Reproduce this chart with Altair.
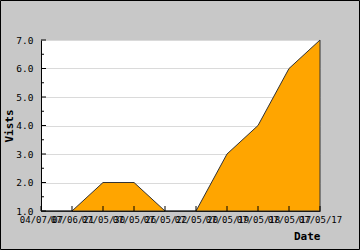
import altair as alt
import pandas as pd

# ---- data ----
dates = ["04/07/07", "07/06/21", "07/05/30", "07/05/26", "07/05/22",
         "07/05/20", "07/05/19", "07/05/18", "07/05/17", "07/05/17"]
visits = [1, 1, 2, 2, 1, 1, 3, 4, 6, 7]
y_major = [1, 2, 3, 4, 5, 6, 7]
y_minor = [1.5, 2.5, 3.5, 4.5, 5.5, 6.5]

W, H = 279, 171
FONT = "DejaVu Sans Mono"

df = pd.DataFrame({"idx": list(range(len(dates))), "Date": dates, "Vists": visits})
major_df = pd.DataFrame({"idx": [0] * len(y_major), "Vists": y_major})
minor_df = pd.DataFrame({"idx": [0] * len(y_minor), "Vists": y_minor})
frame_df = pd.DataFrame({"idx": [0], "Vists": [1]})

x_scale = alt.Scale(domain=[0, len(dates) - 1], nice=False, zero=False)
y_scale = alt.Scale(domain=[y_major[0], y_major[-1]], nice=False, zero=False)

label_expr = "[" + ",".join("'%s'" % d for d in dates) + "][datum.value]"

x_axis = alt.Axis(
    values=list(range(len(dates))), labelExpr=label_expr, title="Date",
    ticks=False, grid=False, domainColor="black", domainWidth=1,
    labelOverlap=False, labelFlush=False, labelBound=False,
    labelPadding=4, labelFont=FONT, labelFontSize=9, labelColor="black",
    titleFont=FONT, titleFontSize=11, titleFontWeight="bold", titleColor="black",
    titleX=W, titleY=25, titleAlign="right", titleBaseline="middle",
)
y_axis = alt.Axis(
    values=y_major, format=".1f", grid=True, gridColor="#dadada",
    ticks=False, domainColor="black", domainWidth=1,
    labelPadding=8, labelFont=FONT, labelFontSize=9.5, labelColor="black",
    title="Vists", titleFont=FONT, titleFontSize=11, titleFontWeight="bold",
    titleColor="black", titleAngle=270, titleX=-32, titleY=H / 2,
    titleAlign="center", titleBaseline="middle",
)

X = alt.X("idx:Q", scale=x_scale, axis=x_axis)
Y = alt.Y("Vists:Q", scale=y_scale, axis=y_axis)

area = alt.Chart(df).mark_area(
    color="#ffa500", stroke="#333333", strokeWidth=1, opacity=1
).encode(x=X, y=Y, y2=alt.datum(1))

x_ticks = alt.Chart(df).mark_rule(color="black", strokeWidth=1).encode(
    x=X, y=alt.value(H), y2=alt.value(H - 5),
)
y_ticks_major = alt.Chart(major_df).mark_rule(color="black", strokeWidth=1).encode(
    y=Y, x=alt.value(0), x2=alt.value(5),
)
y_ticks_minor = alt.Chart(minor_df).mark_rule(color="black", strokeWidth=1).encode(
    y=Y, x=alt.value(0), x2=alt.value(3),
)

# outer frame of the whole picture
frame = alt.Chart(frame_df).mark_rect(
    fill="transparent", stroke="black", strokeWidth=1, clip=False
).encode(
    x=alt.value(-40.5), x2=alt.value(318.5),
    y=alt.value(-39.5), y2=alt.value(209.5),
)

chart = alt.layer(area, x_ticks, y_ticks_major, y_ticks_minor, frame).properties(
    width=W, height=H,
    autosize=alt.AutoSizeParams(type="none"),
    padding={"left": 41, "top": 40, "right": 40, "bottom": 39},
    background="#c8c8c8",
).configure_view(fill="white", stroke=None)

chart.save("out.html", embed_options={"renderer": "svg", "actions": False})
